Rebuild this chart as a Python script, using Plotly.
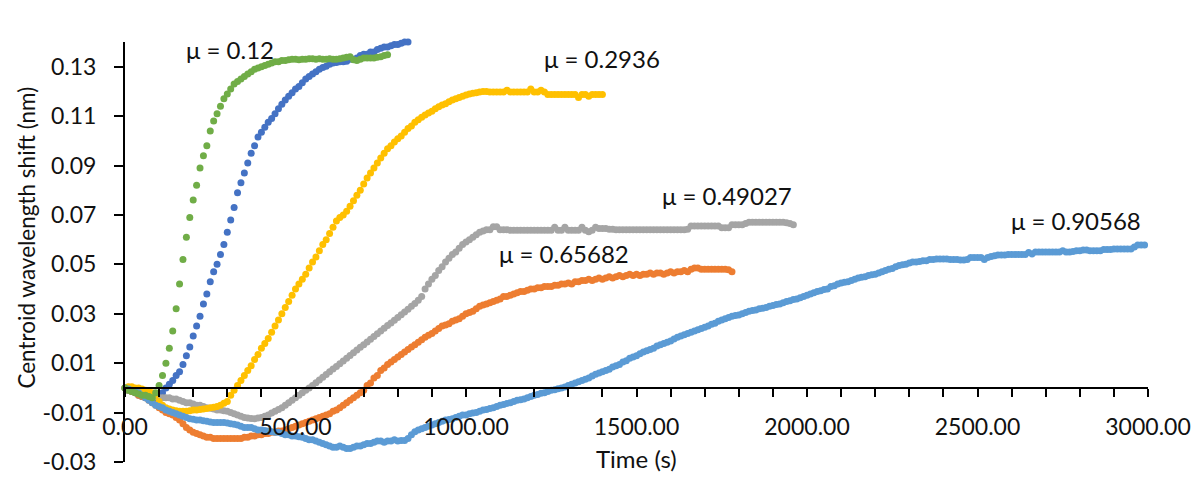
import plotly.graph_objects as go

# Sampling interval of the recorded data (s)
dt = 10

# mu = 0.12 (green)
v_012 = [
    0.000, -0.001, -0.0015, -0.002, -0.0025, -0.003, -0.003, -0.0035, -0.004, -0.002,
    0.001, 0.005, 0.010, 0.016, 0.023, 0.032, 0.042, 0.052, 0.061, 0.069,
    0.076, 0.082, 0.089, 0.094, 0.098, 0.104, 0.108, 0.111, 0.114, 0.117,
    0.119, 0.121, 0.123, 0.124, 0.125, 0.126, 0.127, 0.128, 0.129, 0.1295,
    0.130, 0.1305, 0.131, 0.1315, 0.132, 0.132, 0.1325, 0.1325, 0.1328, 0.133,
    0.133, 0.1328, 0.133, 0.133, 0.1332, 0.1332, 0.133, 0.1332, 0.133, 0.133,
    0.1332, 0.133, 0.133, 0.1332, 0.1335, 0.1338, 0.134, 0.1328, 0.1325, 0.133,
    0.1335, 0.1335, 0.1335, 0.1335, 0.1338, 0.134, 0.1345, 0.1348,
]

# mu = 0.19005 (blue)
v_019005 = [
    0.000, -0.001, -0.0015, -0.002, -0.003, -0.0035, -0.004, -0.0045, -0.0055, -0.005,
    -0.0035, -0.002, 0.000, 0.0015, 0.003, 0.005, 0.0065, 0.0095, 0.013, 0.0165,
    0.021, 0.025, 0.029, 0.034, 0.038, 0.043, 0.047, 0.050, 0.054, 0.058,
    0.063, 0.068, 0.073, 0.079, 0.083, 0.087, 0.091, 0.095, 0.098, 0.1015,
    0.1035, 0.1055, 0.1075, 0.109, 0.111, 0.113, 0.1148, 0.1165, 0.118, 0.1195,
    0.121, 0.122, 0.1235, 0.125, 0.126, 0.127, 0.128, 0.129, 0.1297, 0.1302,
    0.131, 0.1315, 0.1317, 0.132, 0.132, 0.1322, 0.133, 0.133, 0.1335, 0.1345,
    0.135, 0.135, 0.136, 0.136, 0.137, 0.1375, 0.138, 0.138, 0.1385, 0.139,
    0.139, 0.1395, 0.140, 0.140, 0.1405, 0.1405, 0.141, 0.141, 0.141, 0.141, 0.141,
]

# mu = 0.2936 (yellow)
v_02936 = [
    0.000, 0.0005, 0.0005, 0.000, 0.000, -0.0005, -0.001, -0.0015, -0.002, -0.003,
    -0.0055, -0.007, -0.008, -0.0085, -0.009, -0.0093, -0.0095, -0.0095, -0.0095, -0.0093,
    -0.009, -0.009, -0.0088, -0.0085, -0.0083, -0.008, -0.0078, -0.0075, -0.007, -0.0062,
    -0.0055, -0.003, -0.001, 0.001, 0.003, 0.005, 0.007, 0.009, 0.0115, 0.0135,
    0.016, 0.018, 0.020, 0.0225, 0.025, 0.0275, 0.030, 0.0325, 0.035, 0.0375,
    0.040, 0.042, 0.044, 0.046, 0.0485, 0.051, 0.053, 0.0555, 0.058, 0.060,
    0.0625, 0.065, 0.0675, 0.069, 0.070, 0.0715, 0.0735, 0.0757, 0.078, 0.080,
    0.0825, 0.085, 0.087, 0.089, 0.091, 0.093, 0.095, 0.0968, 0.098, 0.0995,
    0.1008, 0.102, 0.1035, 0.105, 0.106, 0.1075, 0.1085, 0.1095, 0.1105, 0.1113,
    0.112, 0.113, 0.1138, 0.1145, 0.115, 0.1158, 0.1165, 0.117, 0.1175, 0.118,
    0.1185, 0.119, 0.1193, 0.1195, 0.1198, 0.120, 0.120, 0.1198, 0.1198, 0.1198,
    0.1198, 0.1198, 0.1205, 0.1198, 0.1198, 0.1198, 0.1198, 0.1198, 0.1198, 0.121,
    0.1198, 0.1198, 0.1205, 0.1198, 0.1188, 0.1188, 0.1188, 0.1188, 0.1188, 0.1188,
    0.1188, 0.1188, 0.1188, 0.1175, 0.1188, 0.1188, 0.118, 0.1188, 0.1188, 0.1188,
    0.1188,
]

# mu = 0.49027 (gray)
v_049027 = [
    0.000, -0.001, -0.001, -0.0015, -0.002, -0.002, -0.0025, -0.003, -0.003, -0.0035,
    -0.004, -0.004, -0.004, -0.004, -0.0045, -0.0045, -0.005, -0.0055, -0.006, -0.006,
    -0.0065, -0.007, -0.007, -0.0075, -0.008, -0.0082, -0.0085, -0.009, -0.009, -0.0093,
    -0.0095, -0.010, -0.0105, -0.011, -0.0115, -0.012, -0.0122, -0.0124, -0.0125, -0.0122,
    -0.012, -0.0115, -0.011, -0.0102, -0.0095, -0.0088, -0.008, -0.007, -0.006, -0.005,
    -0.004, -0.003, -0.002, -0.001, 0.000, 0.001, 0.0021, 0.0032, 0.0043, 0.0054,
    0.0065, 0.0076, 0.0087, 0.0098, 0.0109, 0.012, 0.0131, 0.0142, 0.0153, 0.0164,
    0.0175, 0.0186, 0.0197, 0.0208, 0.0219, 0.023, 0.0241, 0.0252, 0.0263, 0.0274,
    0.0285, 0.0296, 0.0307, 0.0318, 0.033, 0.0342, 0.0355, 0.037, 0.040, 0.042,
    0.044, 0.0455, 0.0475, 0.049, 0.051, 0.0525, 0.054, 0.055, 0.0565, 0.058,
    0.059, 0.060, 0.061, 0.062, 0.063, 0.0635, 0.064, 0.064, 0.0652, 0.0652,
    0.064, 0.064, 0.064, 0.0638, 0.0638, 0.0638, 0.0638, 0.0638, 0.0638, 0.0638,
    0.0638, 0.0638, 0.0638, 0.0638, 0.0638, 0.0638, 0.065, 0.0638, 0.0638, 0.065,
    0.0638, 0.0638, 0.0638, 0.0638, 0.065, 0.0638, 0.0632, 0.0638, 0.065, 0.0645,
    0.0645, 0.0645, 0.0642, 0.0642, 0.064, 0.064, 0.064, 0.064, 0.064, 0.064,
    0.064, 0.064, 0.064, 0.064, 0.064, 0.064, 0.064, 0.064, 0.064, 0.064,
    0.064, 0.064, 0.064, 0.064, 0.064, 0.0642, 0.0655, 0.0655, 0.0655, 0.0655,
    0.0655, 0.0655, 0.0655, 0.0655, 0.0655, 0.0648, 0.0648, 0.0648, 0.066, 0.066,
    0.066, 0.066, 0.0665, 0.067, 0.067, 0.067, 0.067, 0.067, 0.067, 0.067,
    0.067, 0.067, 0.067, 0.067, 0.0668, 0.0665, 0.066,
]

# mu = 0.65682 (orange)
v_065682 = [
    0.000, -0.001, -0.0015, -0.002, -0.003, -0.0035, -0.004, -0.005, -0.006, -0.007,
    -0.008, -0.009, -0.010, -0.0105, -0.011, -0.012, -0.013, -0.0145, -0.016, -0.017,
    -0.018, -0.0185, -0.019, -0.0195, -0.020, -0.020, -0.0205, -0.0205, -0.0205, -0.0205,
    -0.0205, -0.0205, -0.0205, -0.0205, -0.0205, -0.020, -0.020, -0.0195, -0.0195, -0.019,
    -0.019, -0.0185, -0.0185, -0.018, -0.018, -0.0175, -0.0175, -0.017, -0.0165, -0.016,
    -0.0155, -0.015, -0.0145, -0.014, -0.0135, -0.013, -0.0125, -0.012, -0.0115, -0.011,
    -0.0105, -0.0095, -0.009, -0.008, -0.007, -0.006, -0.005, -0.004, -0.003, -0.002,
    -0.001, 0.001, 0.002, 0.004, 0.005, 0.007, 0.008, 0.0095, 0.0105, 0.0115,
    0.0125, 0.0135, 0.0145, 0.0155, 0.0165, 0.0175, 0.0185, 0.0195, 0.0205, 0.0213,
    0.022, 0.023, 0.024, 0.025, 0.0255, 0.026, 0.027, 0.0275, 0.028, 0.029,
    0.030, 0.0305, 0.031, 0.032, 0.033, 0.0335, 0.034, 0.0345, 0.035, 0.0355,
    0.036, 0.037, 0.037, 0.0375, 0.038, 0.0385, 0.039, 0.039, 0.0395, 0.040,
    0.040, 0.0405, 0.0405, 0.041, 0.041, 0.041, 0.0415, 0.0415, 0.042, 0.042,
    0.0425, 0.042, 0.043, 0.043, 0.0435, 0.0435, 0.044, 0.0435, 0.044, 0.0445,
    0.044, 0.0445, 0.045, 0.0445, 0.045, 0.0455, 0.045, 0.0455, 0.046, 0.0455,
    0.046, 0.0455, 0.046, 0.046, 0.0465, 0.046, 0.0465, 0.0465, 0.046, 0.0465,
    0.047, 0.0465, 0.047, 0.047, 0.0475, 0.047, 0.048, 0.0485, 0.0485, 0.048,
    0.048, 0.048, 0.048, 0.048, 0.048, 0.048, 0.048, 0.0478, 0.047,
]

# mu = 0.90568 (light blue)
v_090568 = [
    0.000, -0.0005, -0.001, -0.0015, -0.002, -0.003, -0.004, -0.005, -0.006, -0.007,
    -0.0075, -0.008, -0.009, -0.0095, -0.010, -0.0105, -0.011, -0.0115, -0.012, -0.0125,
    -0.0127, -0.013, -0.013, -0.0133, -0.0135, -0.0138, -0.014, -0.014, -0.014, -0.014,
    -0.0142, -0.0145, -0.0147, -0.015, -0.0155, -0.016, -0.016, -0.016, -0.0165, -0.017,
    -0.017, -0.0173, -0.0175, -0.0178, -0.018, -0.018, -0.0185, -0.019, -0.019, -0.0195,
    -0.0195, -0.0198, -0.020, -0.0205, -0.021, -0.021, -0.0215, -0.022, -0.0225, -0.023,
    -0.0235, -0.024, -0.024, -0.0235, -0.024, -0.0245, -0.0245, -0.024, -0.0235, -0.0235,
    -0.023, -0.0225, -0.0225, -0.022, -0.0215, -0.0215, -0.022, -0.0215, -0.0215, -0.021,
    -0.0215, -0.0213, -0.0213, -0.0205, -0.019, -0.0178, -0.017, -0.0165, -0.016, -0.0155,
    -0.015, -0.0145, -0.014, -0.0135, -0.013, -0.0128, -0.0125, -0.012, -0.0115, -0.011,
    -0.011, -0.0105, -0.0102, -0.010, -0.0095, -0.009, -0.0088, -0.0083, -0.008, -0.0075,
    -0.007, -0.0067, -0.0063, -0.006, -0.0055, -0.005, -0.0048, -0.0045, -0.004, -0.0035,
    -0.003, -0.0027, -0.0022, -0.002, -0.0015, -0.001, -0.0008, -0.0004, 0.000, 0.0004,
    0.001, 0.0015, 0.002, 0.0025, 0.003, 0.0035, 0.004, 0.0048, 0.0055, 0.006,
    0.0065, 0.007, 0.0075, 0.0085, 0.009, 0.0095, 0.0105, 0.011, 0.012, 0.0125,
    0.013, 0.0138, 0.0145, 0.015, 0.0155, 0.016, 0.017, 0.0175, 0.018, 0.0185,
    0.019, 0.0198, 0.0205, 0.021, 0.0215, 0.022, 0.0225, 0.023, 0.0235, 0.024,
    0.0245, 0.025, 0.0258, 0.0262, 0.027, 0.0275, 0.028, 0.0285, 0.029, 0.0293,
    0.0295, 0.030, 0.0305, 0.031, 0.0313, 0.0315, 0.032, 0.0322, 0.0325, 0.033,
    0.0333, 0.0337, 0.034, 0.0345, 0.035, 0.0353, 0.0358, 0.036, 0.0365, 0.037,
    0.0375, 0.038, 0.0385, 0.039, 0.0393, 0.0398, 0.040, 0.041, 0.0413, 0.042,
    0.0425, 0.0428, 0.043, 0.0435, 0.044, 0.0445, 0.0448, 0.045, 0.0455, 0.0458,
    0.046, 0.0465, 0.047, 0.0475, 0.048, 0.0483, 0.049, 0.0495, 0.0498, 0.050,
    0.0505, 0.051, 0.051, 0.0512, 0.0515, 0.0515, 0.052, 0.052, 0.0522, 0.0522,
    0.0522, 0.0522, 0.052, 0.052, 0.052, 0.0518, 0.0518, 0.052, 0.0528, 0.0528,
    0.0528, 0.0528, 0.052, 0.0528, 0.0532, 0.0535, 0.0538, 0.0538, 0.0538, 0.054,
    0.054, 0.054, 0.054, 0.054, 0.054, 0.0548, 0.0542, 0.055, 0.055, 0.055,
    0.055, 0.055, 0.055, 0.055, 0.055, 0.0555, 0.055, 0.055, 0.0552, 0.0555,
    0.0555, 0.0558, 0.0558, 0.0555, 0.0555, 0.0555, 0.0555, 0.056, 0.056, 0.056,
    0.0562, 0.0562, 0.0562, 0.0562, 0.0562, 0.0562, 0.057, 0.0578, 0.0578, 0.0578,
]

# Series (Excel drawing order) and label texts
series_names = ["μ = 0.19005", "μ = 0.65682", "μ = 0.49027", "μ = 0.2936", "μ = 0.90568", "μ = 0.12"]
series_values = [v_019005, v_065682, v_049027, v_02936, v_090568, v_012]
series_colors = ["#4472C4", "#ED7D31", "#A5A5A5", "#FFC000", "#5B9BD5", "#70AD47"]

# Label anchor positions (data coordinates)
label_x = [961, 1287, 1765, 1398, 2790, 307]
label_y = [0.1481, 0.0543, 0.0779, 0.1335, 0.0677, 0.1370]

# Axis settings, tick labels and titles
x_range = [0, 3000]
y_range = [-0.03, 0.14]
y_tick_vals = [-0.03, -0.01, 0.01, 0.03, 0.05, 0.07, 0.09, 0.11, 0.13]
y_tick_text = ["-0.03", "-0.01", "0.01", "0.03", "0.05", "0.07", "0.09", "0.11", "0.13"]
x_title = "Time (s)"
y_title = "Centroid wavelength shift (nm)"

FONT = "Lato"
TXT = "#111111"

fig = go.Figure()
for name, vals, col in zip(series_names, series_values, series_colors):
    t = [i * dt for i in range(len(vals))]
    fig.add_trace(go.Scatter(
        x=t, y=vals, mode="markers", name=name,
        marker=dict(size=7, color=col, line=dict(width=0)),
        cliponaxis=False, showlegend=False,
    ))

for name, lx, ly in zip(series_names, label_x, label_y):
    fig.add_annotation(x=lx, y=ly, xref="x", yref="y", text=name, showarrow=False,
                       font=dict(size=24, color=TXT, family=FONT))

# Axis titles
fig.add_annotation(x=0.5, y=0.009, xref="paper", yref="paper", text=x_title,
                   showarrow=False, xanchor="center", yanchor="middle",
                   font=dict(size=24, color=TXT, family=FONT))
fig.add_annotation(x=-0.0965, y=0.535, xref="paper", yref="paper", text=y_title,
                   textangle=-90, showarrow=False, xanchor="center", yanchor="middle",
                   font=dict(size=22.5, color=TXT, family=FONT))

fig.update_layout(
    width=1203, height=487,
    margin=dict(l=125, r=52, t=42, b=13),
    paper_bgcolor="white", plot_bgcolor="white",
    font=dict(family=FONT, size=23, color=TXT),
    showlegend=False,
)

y_pos = (0 - y_range[0]) / (y_range[1] - y_range[0])
fig.update_xaxes(
    range=x_range, tick0=0, dtick=500, tickformat=".2f",
    ticks="outside", ticklen=8, tickwidth=2, tickcolor="black",
    showline=True, linecolor="black", linewidth=2,
    showgrid=False, zeroline=False,
    anchor="free", position=y_pos,
    ticklabelstandoff=11, ticklabeloverflow="allow",
    minor=dict(dtick=100, ticks="outside", ticklen=8, tickwidth=2, tickcolor="black", showgrid=False),
    tickfont=dict(size=23, color=TXT, family=FONT),
)
fig.update_yaxes(
    range=y_range, tickvals=y_tick_vals, ticktext=y_tick_text,
    ticks="outside", ticklen=9, tickwidth=2, tickcolor="black",
    showline=True, linecolor="black", linewidth=2,
    showgrid=False, zeroline=False,
    ticklabelstandoff=13, ticklabeloverflow="allow",
    tickfont=dict(size=23, color=TXT, family=FONT),
)

fig.write_html("out.html")
